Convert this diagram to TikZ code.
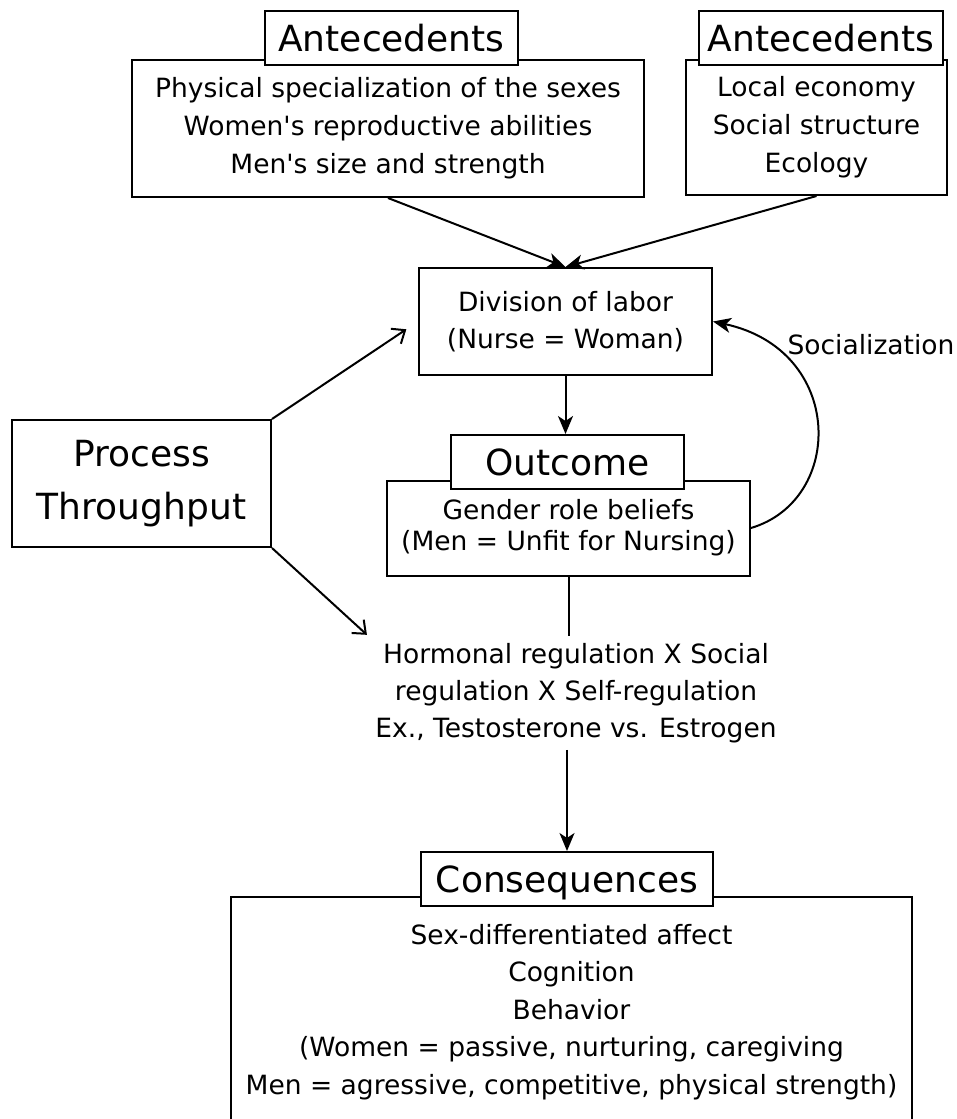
\documentclass[tikz,border=0pt]{standalone}
\usepackage{fontspec}
\setmainfont{DejaVu Sans}
\usetikzlibrary{positioning, arrows.meta}

\begin{document}
\begin{tikzpicture}[
    x=1pt, y=-1pt,
    line width=2pt,
    fwd/.style={-{Stealth[length=18pt,width=15pt,inset=5pt]}},
    barb/.style={-{Straight Barb[length=11pt,width=18pt]}},
    box/.style={draw, fill=white, align=center, inner sep=0pt,
      font=\fontsize{26.5}{38}\selectfont},
    heading/.style={draw, fill=white, inner sep=0pt, minimum height=54pt,
      text height=27pt, text depth=0pt,
      font=\fontsize{36}{44}\selectfont},
    freetext/.style={align=center, inner sep=6pt,
      font=\fontsize{26.5}{37}\selectfont}
  ]
    \clip (0,0) rectangle (956,1119);

    % antecedents
    \node[box, minimum width=512pt, minimum height=137pt] (antL) at (388,128.5)
      {Physical specialization of the sexes\\Women\textquotesingle s reproductive abilities\\Men\textquotesingle s size and strength};
    \node[heading, minimum width=253pt] (antLtitle) at (391.5,38) {Antecedents};
    \node[box, minimum width=261pt, minimum height=135pt] (antR) at (816.5,127.5)
      {Local economy\\Social structure\\Ecology};
    \node[heading, minimum width=244pt] (antRtitle) at (821,38) {Antecedents};

    % process
    \node[box, minimum width=293pt, minimum height=107pt,
      font=\fontsize{26.5}{37}\selectfont] (division) at (565.5,321.5)
      {Division of labor\\(Nurse = Woman)};
    \node[box, minimum width=259pt, minimum height=127pt,
      font=\fontsize{36}{53}\selectfont] (process) at (141.5,483.5)
      {Process\\Throughput};

    % outcome
    \node[box, minimum width=363pt, minimum height=95pt,
      font=\fontsize{26.5}{31}\selectfont] (outMain) at (568.5,528)
      {Gender role beliefs\\(Men = Unfit for Nursing)};
    \node[heading, minimum width=233pt] (outTitle) at (567.5,462) {Outcome};

    \node[freetext] (hormonal) at (576,693)
      {Hormonal regulation X Social\\regulation X Self-regulation\\Ex., Testosterone vs. Estrogen};

    % consequences
    \node[box, minimum width=681pt, minimum height=230pt,
      font=\fontsize{26.5}{37.5}\selectfont] (consMain) at (571.5,1012)
      {Sex-differentiated affect\\Cognition\\Behavior\\(Women = passive, nurturing, caregiving\\Men = agressive, competitive, physical strength)};
    \node[heading, minimum width=292pt] (consTitle) at (567,879) {Consequences};

    \draw[fwd] (antL.south) -- (division.north);
    \draw[fwd] (antR.south) -- (division.north);
    \draw[fwd] (division.south) -- (division.south |- outTitle.north);
    \draw[barb, shorten >=14pt] (process.north east) -- (division.west);
    \draw[barb, shorten >=2pt] (process.south east) -- (hormonal.north west);
    \draw (outMain.south) -- (outMain.south |- hormonal.north);
    \draw[fwd] (consTitle.north |- hormonal.south) -- (consTitle.north);
    \draw[fwd] (outMain.east) .. controls (845,500) and (845,350) .. (division.east);

    \node[font=\fontsize{26.5}{32}\selectfont] (socLabel) at (871,345) {Socialization};
  \end{tikzpicture}
\end{document}
